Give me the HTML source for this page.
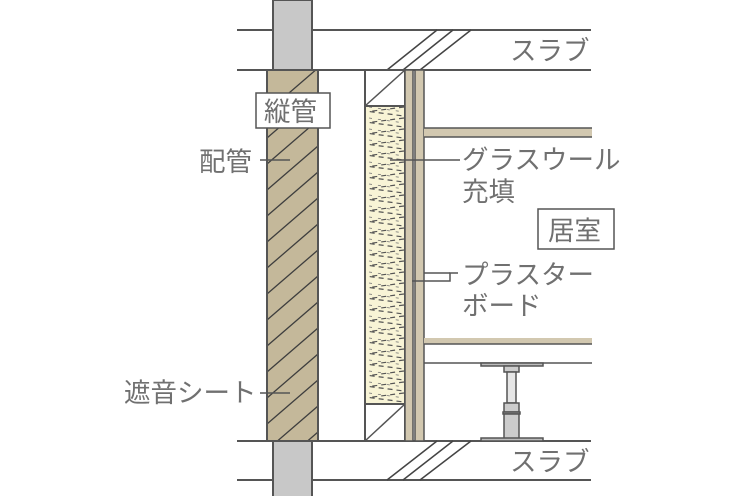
<!DOCTYPE html>
<html><head><meta charset="utf-8"><style>
html,body{margin:0;padding:0;background:#fff;}
svg{display:block}
text{font-family:"Liberation Sans","Noto Sans CJK JP",sans-serif;fill:#707070;font-size:26.5px;}
</style></head><body>
<svg width="746" height="496" viewBox="0 0 746 496" xmlns="http://www.w3.org/2000/svg">
<defs>
<clipPath id="col"><rect x="267" y="70" width="51" height="371"/></clipPath>
<pattern id="wool" patternUnits="userSpaceOnUse" width="40" height="11" x="365" y="106">
<path d="M39,1 L4,5.5 L39,10" stroke="#555" stroke-width="1.2" stroke-dasharray="5,4" fill="none"/>
<path d="M4,1 L36,5.5" stroke="#777" stroke-width="0.8" stroke-dasharray="3,6" fill="none"/>
</pattern>
</defs>
<g stroke="#555" stroke-width="2">
<line x1="237" y1="30" x2="591" y2="30"/>
<line x1="237" y1="70" x2="591" y2="70"/>
<line x1="237" y1="441" x2="591" y2="441"/>
<line x1="237" y1="480" x2="591" y2="480"/>
</g>
<g stroke="#444" stroke-width="1.5">
<line x1="387" y1="70" x2="437" y2="30"/>
<line x1="403" y1="70" x2="453" y2="30"/>
<line x1="420" y1="70" x2="471" y2="30"/>
<line x1="387" y1="480" x2="437" y2="441"/>
<line x1="403" y1="480" x2="453" y2="441"/>
<line x1="420" y1="480" x2="471" y2="441"/>
</g>
<rect x="273" y="0" width="39" height="70" fill="#c8c8c8" stroke="#555" stroke-width="2"/>
<rect x="273" y="441" width="39" height="56" fill="#c8c8c8" stroke="#555" stroke-width="2"/>
<rect x="267" y="70" width="51" height="371" fill="#c4b89a"/>
<g clip-path="url(#col)" stroke="#3e3e3e" stroke-width="1.3">
<line x1="267" y1="112" x2="318" y2="68"/>
<line x1="267" y1="138" x2="318" y2="94"/>
<line x1="267" y1="164" x2="318" y2="120"/>
<line x1="267" y1="190" x2="318" y2="146"/>
<line x1="267" y1="216" x2="318" y2="172"/>
<line x1="267" y1="242" x2="318" y2="198"/>
<line x1="267" y1="268" x2="318" y2="224"/>
<line x1="267" y1="294" x2="318" y2="250"/>
<line x1="267" y1="320" x2="318" y2="276"/>
<line x1="267" y1="346" x2="318" y2="302"/>
<line x1="267" y1="372" x2="318" y2="328"/>
<line x1="267" y1="398" x2="318" y2="354"/>
<line x1="267" y1="424" x2="318" y2="380"/>
<line x1="267" y1="450" x2="318" y2="406"/>
<line x1="267" y1="476" x2="318" y2="432"/>
</g>
<rect x="267" y="70" width="51" height="371" fill="none" stroke="#555" stroke-width="2"/>
<rect x="365" y="70" width="40" height="371" fill="#fff" stroke="#555" stroke-width="2"/>
<line x1="365" y1="106" x2="405" y2="70" stroke="#555" stroke-width="1.5"/>
<line x1="365" y1="441" x2="405" y2="404" stroke="#555" stroke-width="1.5"/>
<rect x="365" y="106" width="40" height="298" fill="#f8f4d6"/>
<rect x="365" y="106" width="40" height="298" fill="url(#wool)"/>
<rect x="365" y="106" width="40" height="298" fill="none" stroke="#555" stroke-width="2"/>
<rect x="405" y="70" width="8" height="371" fill="#d2c8b0" stroke="#555" stroke-width="1.5"/>
<rect x="415" y="70" width="9" height="371" fill="#d2c8b0" stroke="#555" stroke-width="1.5"/>
<rect x="424" y="128" width="168" height="9" fill="#d2c8b0"/>
<line x1="424" y1="128" x2="592" y2="128" stroke="#555" stroke-width="1.5"/>
<line x1="424" y1="137" x2="592" y2="137" stroke="#555" stroke-width="1.5"/>
<rect x="424" y="338" width="168" height="6" fill="#d2c8b0"/>
<line x1="424" y1="344" x2="592" y2="344" stroke="#555" stroke-width="1.5"/>
<line x1="424" y1="363" x2="592" y2="363" stroke="#555" stroke-width="1.5"/>
<g stroke="#555" stroke-width="1.5">
<rect x="481" y="363" width="62" height="3" fill="#bbb"/>
<rect x="504" y="366" width="15" height="6" fill="#ccc"/>
<rect x="507" y="372" width="9" height="31" fill="#e6e6e6"/>
<rect x="504" y="403" width="15" height="9" fill="#ccc"/>
<rect x="503" y="412" width="17" height="2" fill="#aaa"/>
<rect x="504" y="414" width="15" height="25" fill="#ccc"/>
<rect x="481" y="438" width="62" height="3" fill="#bbb"/>
</g>
<g stroke="#555" stroke-width="1.5" fill="none">
<line x1="260" y1="160" x2="290" y2="160"/>
<line x1="260" y1="393" x2="290" y2="393"/>
<line x1="390" y1="160" x2="460" y2="160"/>
<polyline points="412,281 450,281 450,273 458,273"/>
<line x1="424" y1="273" x2="450" y2="273"/>
</g>
<rect x="256" y="93" width="74" height="35" fill="#fff" stroke="#555" stroke-width="1.5"/>
<text x="264" y="121">縦管</text>
<rect x="538" y="209" width="76" height="40" fill="#fff" stroke="#555" stroke-width="1.5"/>
<text x="548" y="240">居室</text>
<text x="510" y="60">スラブ</text>
<text x="510" y="471">スラブ</text>
<text x="199" y="171">配管</text>
<text x="462" y="169">グラスウール</text>
<text x="462" y="201">充填</text>
<text x="462" y="284">プラスター</text>
<text x="462" y="315">ボード</text>
<text x="124" y="402">遮音シート</text>
</svg>
</body></html>
